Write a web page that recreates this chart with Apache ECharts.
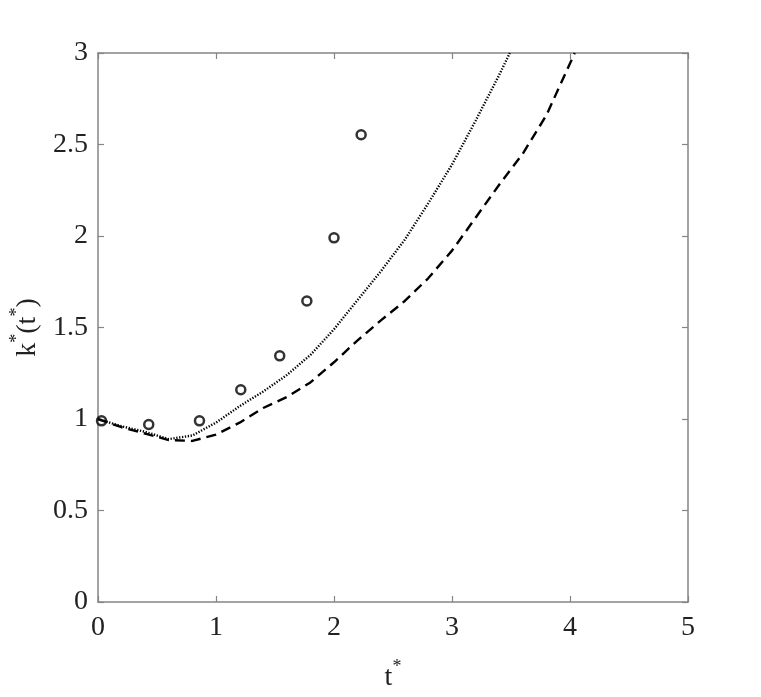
<!DOCTYPE html>
<html>
<head>
<meta charset="utf-8">
<script src="https://cdn.jsdelivr.net/npm/echarts@6/dist/echarts.min.js"></script>
<style>html,body{margin:0;padding:0;background:#fff;}#c{width:761px;height:697px;}</style>
</head>
<body>
<div id="c"></div>
<script>
// Circles (measured points)
var circleT = [0.03, 0.43, 0.86, 1.21, 1.54, 1.77, 2.00, 2.23];
var circleK = [0.99, 0.97, 0.99, 1.16, 1.345, 1.645, 1.99, 2.553];
// Dotted curve
var dottedT = [0, 0.2, 0.4, 0.6, 0.8, 1.0, 1.2, 1.4, 1.6, 1.8, 2.0, 2.2, 2.4, 2.6, 2.8, 3.0, 3.2, 3.4, 3.49];
var dottedK = [1.0, 0.96, 0.93, 0.89, 0.91, 0.98, 1.07, 1.15, 1.24, 1.35, 1.49, 1.65, 1.81, 1.98, 2.18, 2.39, 2.63, 2.88, 3.0];
// Dashed curve
var dashedT = [0, 0.2, 0.4, 0.6, 0.8, 1.0, 1.2, 1.4, 1.6, 1.8, 2.0, 2.2, 2.4, 2.6, 2.8, 3.0, 3.2, 3.4, 3.6, 3.8, 4.04];
var dashedK = [1.0, 0.955, 0.92, 0.885, 0.88, 0.915, 0.98, 1.06, 1.12, 1.20, 1.31, 1.43, 1.54, 1.645, 1.77, 1.92, 2.10, 2.28, 2.45, 2.66, 3.0];
var xTicks = [0, 1, 2, 3, 4, 5];
var yTicks = [0, 0.5, 1, 1.5, 2, 2.5, 3];

function zip(a, b) { return a.map(function (v, i) { return [v, b[i]]; }); }

var FONT = 'Liberation Serif';
var AX = '#858585';
var chart = echarts.init(document.getElementById('c'), null, {renderer: 'canvas'});
var baseX = {
  type: 'value', min: xTicks[0], max: xTicks[xTicks.length - 1], interval: 1,
  axisLine: {show: true, onZero: false, lineStyle: {color: AX, width: 1.5}},
  axisTick: {show: true, inside: true, length: 6, lineStyle: {color: AX, width: 1.2}},
  splitLine: {show: false}
};
var baseY = {
  type: 'value', min: yTicks[0], max: yTicks[yTicks.length - 1], interval: 0.5,
  axisLine: {show: true, onZero: false, lineStyle: {color: AX, width: 1.5}},
  axisTick: {show: true, inside: true, length: 6, lineStyle: {color: AX, width: 1.2}},
  splitLine: {show: false}
};
chart.setOption({
  backgroundColor: '#fff',
  animation: false,
  grid: {left: 98, top: 53, width: 590, height: 551, containLabel: false},
  xAxis: [
    Object.assign({}, baseX, {
      position: 'bottom',
      axisLabel: {color: '#222', fontFamily: FONT, fontSize: 28, margin: 12},
      name: '{a|t}{b|*}', nameLocation: 'middle', nameGap: 56,
      nameTextStyle: {
        fontFamily: FONT, color: '#222',
        rich: {
          a: {fontFamily: FONT, fontSize: 28, color: '#222', lineHeight: 34, verticalAlign: 'bottom'},
          b: {fontFamily: FONT, fontSize: 18, color: '#222', lineHeight: 34, verticalAlign: 'top'}
        }
      }
    }),
    Object.assign({}, baseX, {position: 'top', axisLabel: {show: false}})
  ],
  yAxis: [
    Object.assign({}, baseY, {
      position: 'left',
      axisLabel: {color: '#222', fontFamily: FONT, fontSize: 28, margin: 10},
      name: '{a|k}{b|*}{a|(t}{b|*}{a|)}', nameLocation: 'middle', nameGap: 56, nameRotate: 90,
      nameTextStyle: {
        fontFamily: FONT, color: '#222',
        rich: {
          a: {fontFamily: FONT, fontSize: 28, color: '#222', lineHeight: 34, verticalAlign: 'bottom'},
          b: {fontFamily: FONT, fontSize: 18, color: '#222', lineHeight: 34, verticalAlign: 'top'}
        }
      }
    }),
    Object.assign({}, baseY, {position: 'right', axisLabel: {show: false}})
  ],
  series: [
    {
      type: 'line', xAxisIndex: 0, yAxisIndex: 0,
      data: zip(dottedT, dottedK), showSymbol: false, symbol: 'none', smooth: false,
      lineStyle: {color: '#000', width: 2.4, type: [1.3, 1.6]}
    },
    {
      type: 'line', xAxisIndex: 0, yAxisIndex: 0,
      data: zip(dashedT, dashedK), showSymbol: false, symbol: 'none', smooth: false,
      lineStyle: {color: '#000', width: 2.4, type: [10, 6]}
    },
    {
      type: 'scatter', xAxisIndex: 0, yAxisIndex: 0,
      data: zip(circleT, circleK), symbol: 'circle', symbolSize: 9,
      itemStyle: {color: '#fff', borderColor: '#000', borderWidth: 2.5}
    }
  ]
});
</script>
</body>
</html>
